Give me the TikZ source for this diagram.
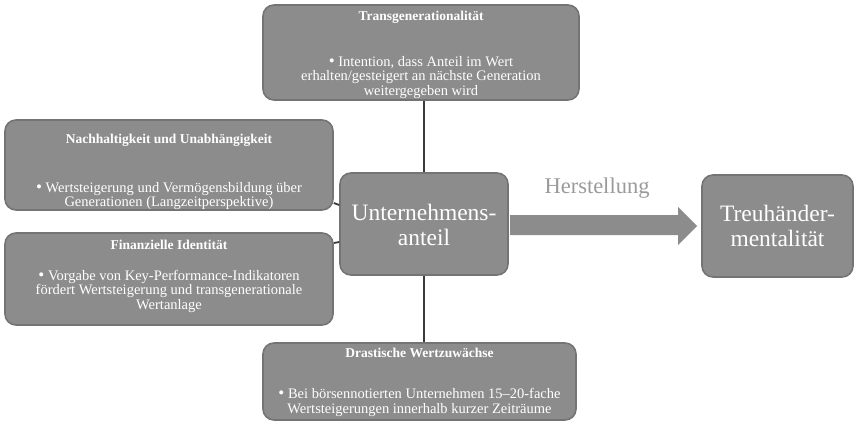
\documentclass[tikz,border=0pt]{standalone}
\usepackage{fontspec}
\setmainfont{Liberation Serif}
\usetikzlibrary{calc}
\definecolor{boxfill}{HTML}{8C8C8C}
\definecolor{boxline}{HTML}{747474}
\definecolor{linkcol}{HTML}{3A3A3A}
\definecolor{labelcol}{HTML}{9A9A9A}
\tikzset{
  card/.style={draw=boxline, line width=1.6pt, fill=boxfill, rounded corners=11pt, inner sep=0pt},
  headtext/.style={text=white, font=\fontsize{13.5}{14}\selectfont\bfseries, inner sep=0pt},
  bodytext/.style={text=white, font=\fontsize{14.5}{14.5}\selectfont, align=center, inner sep=0pt},
  bigtext/.style={text=white, font=\fontsize{23.5}{25}\selectfont, align=center, inner sep=0pt},
  link/.style={draw=linkcol, line width=1.8pt}
}
\newcommand{\dotmark}{{\fontsize{17}{14}\selectfont\textbullet}}
\begin{document}
\begin{tikzpicture}[x=1pt,y=-1pt]
\useasboundingbox (0,0) rectangle (858,421);

% outer cards
\node[card, minimum width=316pt, minimum height=95pt] (top) at (421,52.5) {};
\node[card, minimum width=328pt, minimum height=90pt] (lb1) at (169,165) {};
\node[card, minimum width=328pt, minimum height=92pt] (lb2) at (169,279) {};
\node[card, minimum width=313pt, minimum height=77pt] (bot) at (419.5,381.5) {};
\node[card, minimum width=168pt, minimum height=102pt] (c) at (424,224) {};
\node[card, minimum width=151pt, minimum height=102pt] (r) at (777.5,226) {};

% connectors to the centre card
\draw[link] (c.north) -- (c.north |- top.south);
\draw[link] (c.south) -- (c.south |- bot.north);
\draw[link] (lb1.east |- 0,203) -- (c.west |- 0,205);
\draw[link] (lb2.east |- 0,243) -- (c.west |- 0,242);

% block arrow
\fill[boxfill] (510,215) -- (678,215) -- (678,207) -- (697,226) -- (678,245) -- (678,235) -- (510,235) -- cycle;
\node[text=labelcol, font=\fontsize{22.5}{25}\selectfont, inner sep=0pt] (lab) at (597,188) {Herstellung};

% texts
\node[headtext] (topH) at (421,17) {Transgenerationalität};
\node[bodytext] (topB) at (421,77.5) {\dotmark\ Intention, dass Anteil im Wert\\erhalten/gesteigert an nächste Generation\\weitergegeben wird};

\node[headtext] (lb1H) at (169,140) {Nachhaltigkeit und Unabhängigkeit};
\node[bodytext] (lb1B) at (169,196) {\dotmark\ Wertsteigerung und Vermögensbildung über\\Generationen (Langzeitperspektive)};

\node[headtext] (lb2H) at (169,245) {Finanzielle Identität};
\node[bodytext] (lb2B) at (169,291) {\dotmark\ Vorgabe von Key-Performance-Indikatoren\\fördert Wertsteigerung und transgenerationale\\Wertanlage};

\node[headtext] (botH) at (419.5,353) {Drastische Wertzuwächse};
\node[bodytext] (botB) at (419.5,402.5) {\dotmark\ Bei börsennotierten Unternehmen 15–20-fache\\Wertsteigerungen innerhalb kurzer Zeiträume};

\node[bigtext] (cT) at (424,224.5) {Unternehmens-\\anteil};
\node[bigtext] (rT) at (777.5,226) {Treuhänder-\\mentalität};
\end{tikzpicture}
\end{document}
